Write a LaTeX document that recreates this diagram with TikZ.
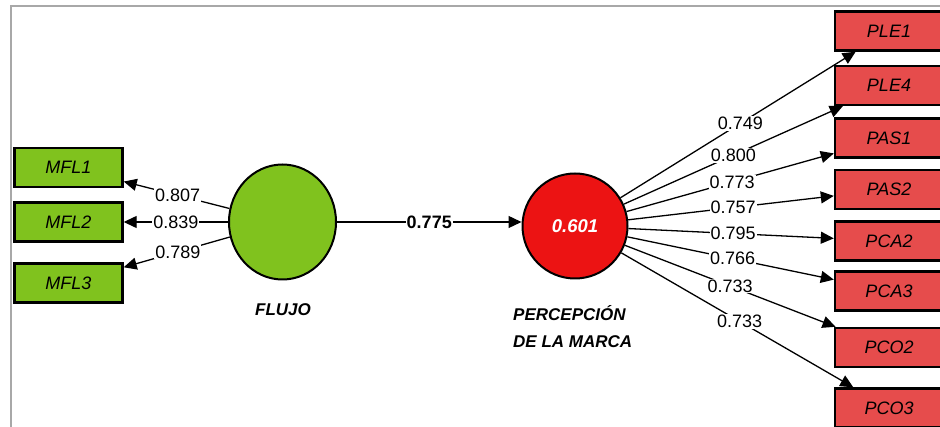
\documentclass[tikz,border=0pt]{standalone}
\usepackage{fontspec}
\setmainfont{Liberation Sans}
\usetikzlibrary{arrows.meta,shapes.geometric}
\definecolor{lvgreen}{HTML}{80C21E}
\definecolor{mvgreen}{HTML}{80C21E}
\definecolor{lvred}{HTML}{EC1313}
\definecolor{mvred}{HTML}{E64C4C}
\definecolor{framegray}{HTML}{A8A8A8}
\begin{document}
\begin{tikzpicture}[x=1pt,y=-1pt,
  mvbox/.style={draw=black, line width=2.4pt, minimum width=108pt, minimum height=39pt, inner sep=0pt, font=\fontsize{18}{21}\selectfont\itshape},
  gbox/.style={mvbox, fill=mvgreen},
  rbox/.style={mvbox, fill=mvred},
  arr/.style={line width=1.3pt, -{Triangle[length=13pt,width=12pt]}},
  lbl/.style={fill=white, inner sep=1pt, font=\fontsize{18}{21}\selectfont},
  lvname/.style={font=\fontsize{17}{27}\selectfont\bfseries\itshape, inner sep=0pt}
]
\useasboundingbox (0,0) rectangle (940,427);
\clip (0,0) rectangle (940,427);
\fill[white] (0,0) rectangle (940,427);
\draw[framegray, line width=2pt] (11,430) -- (11,6) -- (945,6);

% latent variables
\node[ellipse, draw=black, line width=2pt, fill=lvgreen, minimum width=107pt, minimum height=115pt, inner sep=0pt] (flujo) at (282.5,222) {};
\node[circle, draw=black, line width=2pt, fill=lvred, minimum size=105pt, inner sep=0pt, text=white, font=\fontsize{18.5}{21}\selectfont\bfseries\itshape] (pm) at (575,226) {0.601};
\node[lvname] (flujoname) at (283,310) {FLUJO};
\node[lvname, anchor=west, align=left] (pmname) at (513,326.5) {PERCEPCIÓN\\DE LA MARCA};

% indicators left
\node[gbox] (mfl1) at (68.5,167.5) {MFL1};
\node[gbox] (mfl2) at (68.5,222) {MFL2};
\node[gbox] (mfl3) at (68.5,283) {MFL3};

% indicators right
\node[rbox] (ple1) at (889,31) {PLE1};
\node[rbox] (ple4) at (889,85.5) {PLE4};
\node[rbox] (pas1) at (889,138) {PAS1};
\node[rbox] (pas2) at (889,189.5) {PAS2};
\node[rbox] (pca2) at (889,241) {PCA2};
\node[rbox] (pca3) at (889,291) {PCA3};
\node[rbox] (pco2) at (889,347.5) {PCO2};
\node[rbox] (pco3) at (889,408) {PCO3};

% loadings left
\draw[arr] (flujo) -- node[lbl,pos=0.49] (l1) {0.807} (mfl1);
\draw[arr] (flujo) -- node[lbl,pos=0.5] (l2) {0.839} (mfl2);
\draw[arr] (flujo) -- node[lbl,pos=0.49] (l3) {0.789} (mfl3);

% path
\draw[arr] (flujo) -- node[lbl, font=\fontsize{18}{21}\selectfont\bfseries] (pc) {0.775} (flujo -| pm.west);

% loadings right
\draw[arr] (pm) -- node[lbl,pos=0.51] (r1) {0.749} (ple1);
\draw[arr] (pm) -- node[lbl,pos=0.5] (r2) {0.800} (ple4);
\draw[arr] (pm) -- node[lbl,pos=0.51] (r3) {0.773} (pas1);
\draw[arr] (pm) -- node[lbl,pos=0.51] (r4) {0.757} (pas2);
\draw[arr] (pm) -- node[lbl,pos=0.51] (r5) {0.795} (pca2);
\draw[arr] (pm) -- node[lbl,pos=0.51] (r6) {0.766} (pca3);
\draw[arr] (pm) -- node[lbl,pos=0.5] (r7) {0.733} (pco2);
\draw[arr] (pm) -- node[lbl,pos=0.51] (r8) {0.733} (pco3);
\end{tikzpicture}
\end{document}
